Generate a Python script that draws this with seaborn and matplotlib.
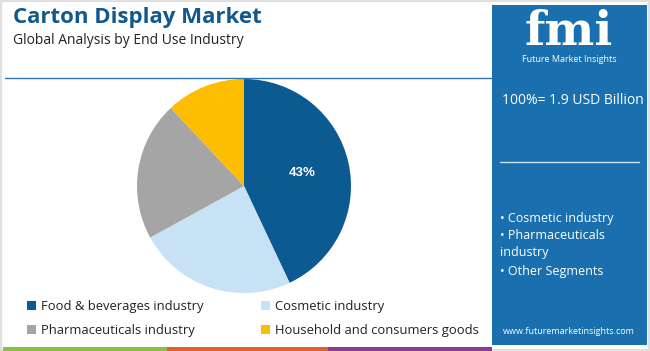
import numpy as np
import pandas as pd
import matplotlib
matplotlib.use("Agg")
import matplotlib.pyplot as plt
import seaborn as sns
from matplotlib.patches import Rectangle, Patch
from matplotlib.lines import Line2D

# ---- data ----
segments = ["Food & beverages industry", "Cosmetic industry",
            "Pharmaceuticals industry", "Household and consumers goods"]
shares = [43, 24, 21, 12]
seg_colors = ["#0b5a92", "#c6e2f4", "#a5a5a5", "#fdbd00"]
title = "Carton Display Market"
subtitle = "Global Analysis by End Use Industry"
total_label = "100%= 1.9 USD Billion"
side_items = ["• Cosmetic industry", "• Pharmaceuticals\nindustry", "• Other Segments"]

df = pd.DataFrame({"segment": segments, "share": shares})

sns.set_theme(style="white")
plt.rcParams["font.family"] = ["Open Sans", "DejaVu Sans"]

W, H = 650, 351
fig = plt.figure(figsize=(6.5, 3.51), dpi=100)
fig.patch.set_facecolor("white")

def fx(px):
    return px / W

def fy(py):
    return 1 - py / H

# outer frame
fig.patches.append(Rectangle((0, 0), 1, 1, transform=fig.transFigure,
                             fill=False, edgecolor="#e0e0e0", linewidth=3))

# title block
fig.text(fx(13), fy(18), title, fontsize=16, fontweight="bold",
         color="#10598f", va="center", ha="left")
fig.text(fx(13), fy(41), subtitle, fontsize=10, color="#222222",
         va="center", ha="left")
fig.add_artist(Line2D([fx(5), fx(492)], [fy(78), fy(78)],
                      transform=fig.transFigure, color="#2a78b4", lw=1))

# bottom color strip
for x0, x1, c in [(3, 167, "#8cbf45"), (167, 328, "#e2622b"), (328, 492, "#8d3b95")]:
    fig.patches.append(Rectangle((fx(x0), 0), fx(x1 - x0), 4 / H,
                                 transform=fig.transFigure, color=c, lw=0))

# right panel
fig.patches.append(Rectangle((fx(492), fy(345)), fx(155), 340 / H,
                             transform=fig.transFigure, color="#1a6fae", lw=0))
fig.text(fx(569), fy(32), "fmi", fontsize=34, fontweight="bold",
         family=["DejaVu Serif"], color="white", ha="center", va="center")
fig.text(fx(569), fy(60), "Future Market Insights", fontsize=6.5,
         color="white", ha="center", va="center")
fig.text(fx(502), fy(101), total_label, fontsize=10, color="white",
         ha="left", va="center")
fig.add_artist(Line2D([fx(500), fx(639)], [fy(162), fy(162)],
                      transform=fig.transFigure, color="#d0e4f2", lw=1))
fig.text(fx(500), fy(218), side_items[0], fontsize=9, color="white",
         ha="left", va="center")
fig.text(fx(500), fy(244), side_items[1], fontsize=9, color="white",
         ha="left", va="center", linespacing=1.45)
fig.text(fx(500), fy(271), side_items[2], fontsize=9, color="white",
         ha="left", va="center")
fig.text(fx(569), fy(331), "www.futuremarketinsights.com", fontsize=6.5,
         color="white", ha="center", va="center")

# pie
cx, cy, r = 244, 186, 107
ax = fig.add_axes([fx(cx - r), fy(cy + r), fx(2 * r), 2 * r / H])
wedges, _, autotexts = ax.pie(
    df["share"], colors=seg_colors, startangle=90, counterclock=False,
    autopct=lambda p: f"{p:.0f}%" if p > 40 else "", pctdistance=0.56,
    wedgeprops=dict(linewidth=0),
    textprops=dict(color="white", fontsize=9.5, fontweight="bold",
                   family=["Liberation Sans"]))
ax.set_xlim(-1, 1)
ax.set_ylim(-1, 1)
ax.set_aspect("equal")
ax.axis("off")

# legend: rows Food/Cosmetic, Pharma/Household
order = [0, 2, 1, 3]
handles = [Patch(facecolor=seg_colors[i], edgecolor="none") for i in order]
labels = [segments[i] for i in order]
fig.legend(handles, labels, ncol=2, loc="upper left",
           bbox_to_anchor=(fx(27), fy(300)), frameon=False, fontsize=9.4,
           borderpad=0, borderaxespad=0,
           handlelength=0.7, handleheight=0.7, handletextpad=0.4,
           columnspacing=4.35, labelspacing=0.85, labelcolor="#222222")

fig.savefig("out.png", dpi=100)
